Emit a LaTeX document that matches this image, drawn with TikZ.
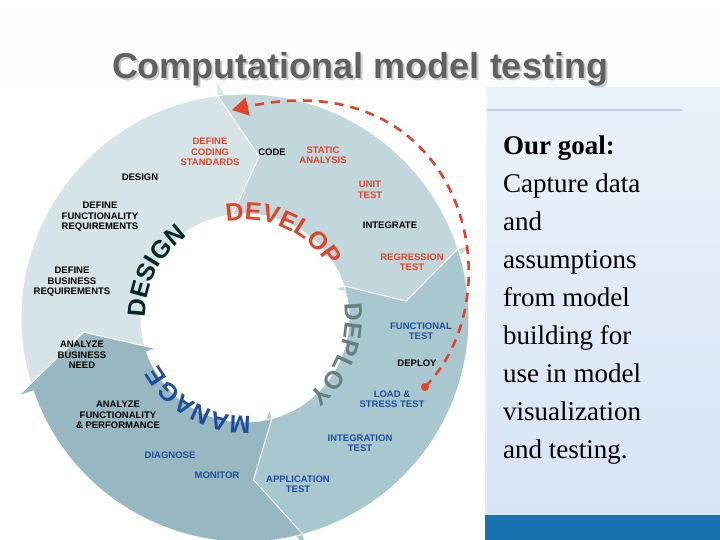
\documentclass[tikz,border=0pt]{standalone}
\usepackage{fontspec}
\setmainfont{Liberation Serif}
\setsansfont{Liberation Sans}
\usetikzlibrary{decorations.text,arrows.meta}
\definecolor{dred}{HTML}{E0452A}
\definecolor{dblue}{HTML}{1F4E9C}
\definecolor{cdes}{HTML}{D6E4E7}
\definecolor{cdev}{HTML}{C2D7DB}
\definecolor{cdep}{HTML}{A9C7CE}
\definecolor{cman}{HTML}{97B8C0}
\definecolor{bgblue}{HTML}{DDE8F6}
\tikzset{
 lbl/.style={font=\sffamily\bfseries\fontsize{9.5}{10.5}\selectfont,align=center,inner sep=0pt},
 lr/.style={lbl,text=dred},
 lb/.style={lbl,text=dblue},
 lk/.style={lbl,text=black},
 seg/.style={draw=white,line width=1pt,line join=round},
}
\newcommand{\wseg}[3]{\fill[seg,fill=#3] (#1:224) arc[start angle=#1,end angle=#2,radius=224] -- (#2:240) -- ({#2-14}:162) -- (#2:94) -- (#2:104) arc[start angle=#2,end angle=#1,radius=104] -- ({#1-12}:162) -- cycle;}
\newcommand{\arctext}[5]{\path[decorate,decoration={text along path,text align=center,text={|\sffamily\bfseries\fontsize{25}{25}\selectfont\color{#5}|#4}}] (#1:#3) arc[start angle=#1,end angle=#2,radius=#3];}
\begin{document}
\begin{tikzpicture}[x=1pt,y=1pt]
\useasboundingbox (0,0) rectangle (720,-540);
\shade[top color=white,bottom color=bgblue] (0,0) rectangle (720,-540);
\fill[white] (0,-88) rectangle (485,-540);
\shade[top color=bgblue!60,bottom color=bgblue!120] (487,-88) rectangle (720,-540);
\fill[dblue!80!cyan] (485,-515) rectangle (720,-540);
\draw[bgblue!50!blue!40,line width=1.5pt] (487,-110) -- (682,-110);
\node[font=\sffamily\bfseries\fontsize{36}{40}\selectfont,text=gray!40] (tsh) at (362,-71) {Computational model testing};
\node[font=\sffamily\bfseries\fontsize{36}{40}\selectfont,text=black!62] (title) at (360,-69) {Computational model testing};
\node[anchor=north west,align=left,font=\fontsize{27}{38}\selectfont,inner sep=0pt] (goal) at (503,-136) {\textbf{Our goal:}\\Capture data\\and\\assumptions\\from model\\building for\\use in model\\visualization\\and testing.};
\begin{scope}[shift={(245,-318)}]
\wseg{199}{97}{cdes}
\wseg{97}{18}{cdev}
\wseg{18}{-75}{cdep}
\wseg{-75}{-161}{cman}
\arctext{195}{110}{100}{DESIGN}{black!70!teal}
\arctext{102}{30}{98}{DEVELOP}{dred}
\arctext{16}{-58}{100}{DEPLOY}{gray!80!teal}
\arctext{-78}{-160}{98}{MANAGE}{dblue}
\end{scope}
\node[lr] (dcs) at (210,-152) {DEFINE\\CODING\\STANDARDS};
\node[lk] (code) at (272,-152) {CODE};
\node[lr] (sa) at (323,-155) {STATIC\\ANALYSIS};
\node[lk] (des) at (140,-177) {DESIGN};
\node[lr] (ut) at (370,-190) {UNIT\\TEST};
\node[lk] (dfr) at (100,-217) {DEFINE\\FUNCTIONALITY\\REQUIREMENTS};
\node[lk] (integ) at (390,-225) {INTEGRATE};
\node[lr] (rt) at (412,-262) {REGRESSION\\TEST};
\node[lk] (dbr) at (72,-282) {DEFINE\\BUSINESS\\REQUIREMENTS};
\node[lb] (ft) at (421,-331) {FUNCTIONAL\\TEST};
\node[lk] (abn) at (82,-355) {ANALYZE\\BUSINESS\\NEED};
\node[lk] (dep) at (417,-363) {DEPLOY};
\node[lb] (lst) at (392,-399) {LOAD \&\\STRESS TEST};
\node[lk] (afp) at (118,-415) {ANALYZE\\FUNCTIONALITY\\\& PERFORMANCE};
\node[lb] (it) at (360,-443) {INTEGRATION\\TEST};
\node[lb] (diag) at (170,-455) {DIAGNOSE};
\node[lb] (mon) at (217,-475) {MONITOR};
\node[lb] (apt) at (298,-484) {APPLICATION\\TEST};
\coordinate (ds) at (425,-387);
\coordinate (de) at (232,-110);
\fill[dred] (ds) circle (4);
\draw[dred,line width=2.6pt,dash pattern=on 9pt off 7pt,-{Triangle[length=16pt,width=18pt]}] (ds) .. controls (520,-290) and (460,-60) .. (de);
\end{tikzpicture}
\end{document}
